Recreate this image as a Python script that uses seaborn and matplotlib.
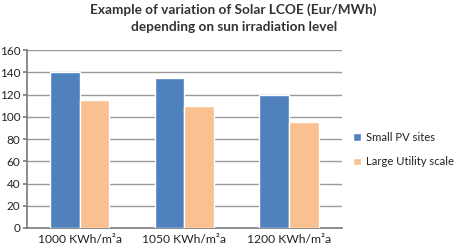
import numpy as np
import pandas as pd
import seaborn as sns
import matplotlib
matplotlib.use("Agg")
import matplotlib.pyplot as plt

# data
categories = ['1000 KWh/m²a', '1050 KWh/m²a', '1200 KWh/m²a']
small_pv = [140, 135, 120]
large_utility = [115, 110, 95]
series = ['Small PV sites', 'Large Utility scale']

df = pd.DataFrame({
    'irradiation': categories * 2,
    'lcoe': small_pv + large_utility,
    'type': [series[0]] * 3 + [series[1]] * 3,
})

sns.set_theme(style="white")
plt.rcParams['font.family'] = ['Lato', 'DejaVu Sans']

fig = plt.figure(figsize=(4.6, 2.5), dpi=100)
ax = fig.add_axes([0.059, 0.088, 0.684, 0.712])

sns.barplot(data=df, x='irradiation', y='lcoe', hue='type',
            palette=['#4F81BD', '#FAC090'], width=0.57, saturation=1,
            ax=ax, zorder=3)

ax.set_ylim(0, 160)
ax.set_yticks(np.arange(0, 161, 20))
ax.yaxis.grid(True, color='#999999', linewidth=1, zorder=0)
ax.set_axisbelow(True)
ax.set_xlabel('')
ax.set_ylabel('')
for s in ['top', 'right']:
    ax.spines[s].set_visible(False)
ax.spines['left'].set_color('#7f7f7f')
ax.spines['bottom'].set_color('#7f7f7f')
ax.tick_params(axis='y', length=3, color='#7f7f7f', labelsize=8.5, pad=2,
               left=True, labelcolor='#222222')
ax.tick_params(axis='x', length=0, labelsize=8.7, pad=4, labelcolor='#222222')

ax.legend(loc='center left', bbox_to_anchor=(1.0, 0.44), frameon=False,
          fontsize=8.1, handlelength=0.7, handleheight=0.7, handletextpad=0.45,
          labelspacing=1.2, labelcolor='#222222', borderaxespad=0.6)

fig.text(0.508, 0.985, 'Example of variation of Solar LCOE (Eur/MWh)\ndepending on sun irradiation level',
         ha='center', va='top', fontsize=9.8, fontweight='bold', color='#333333',
         linespacing=1.45)

plt.savefig('out.png', dpi=100)
